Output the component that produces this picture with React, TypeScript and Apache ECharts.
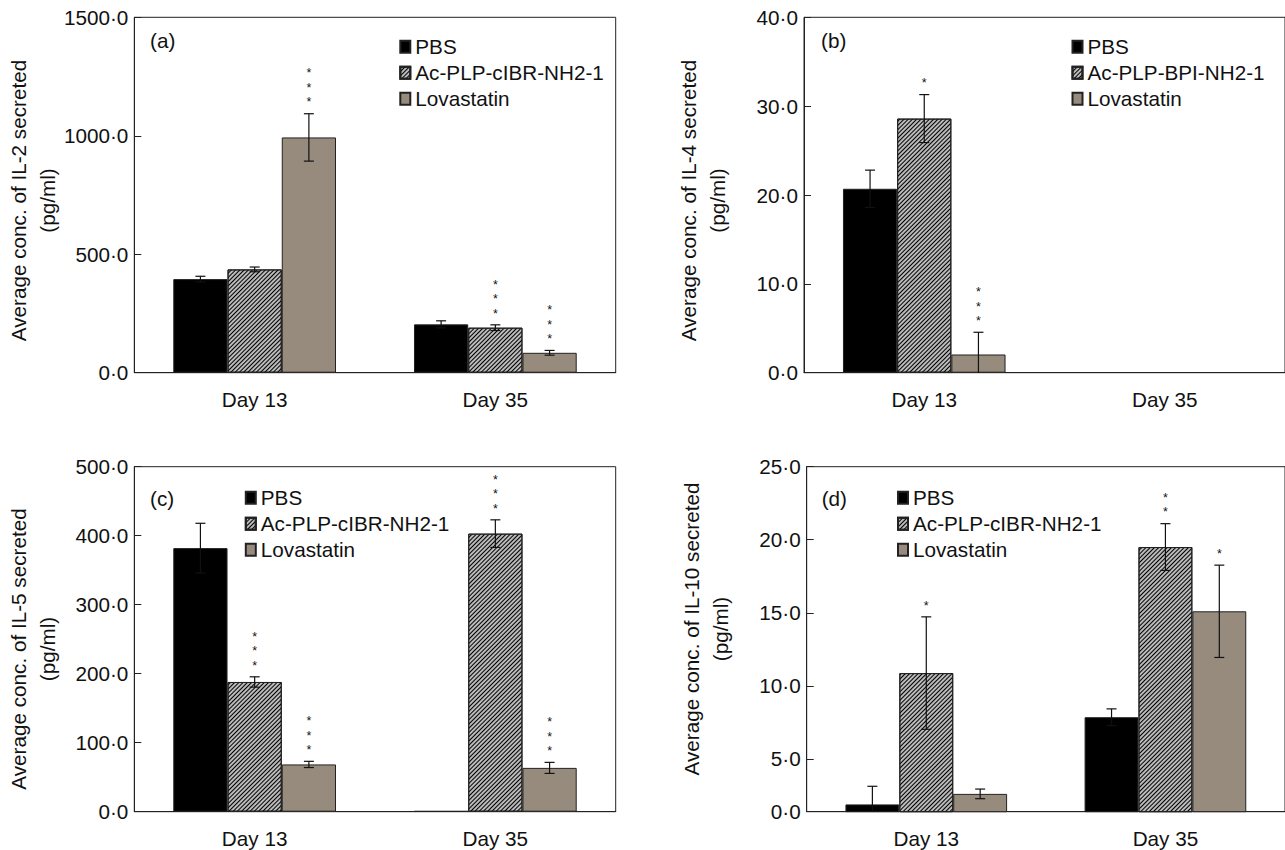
import React, { useEffect, useRef } from "react";
import * as echarts from "echarts";

const FONT = '"Liberation Sans", Arial, Helvetica, sans-serif';
const FS = 20.7;

const categories = ["Day 13", "Day 35"];
const seriesNames = ["PBS", "Ac-PLP-cIBR-NH2-1", "Lovastatin"];
const seriesNamesB = ["PBS", "Ac-PLP-BPI-NH2-1", "Lovastatin"];

// (a) IL-2
const il2Pbs = [395, 204];
const il2PbsErr = [12, 15];
const il2Pep = [436, 190];
const il2PepErr = [10, 12];
const il2Lov = [993, 84];
const il2LovErr = [100, 10];
const il2Stars = [[0, 0], [0, 3], [3, 3]];

// (b) IL-4
const il4Pbs = [20.7, null];
const il4PbsErr = [2.1, null];
const il4Pep = [28.6, null];
const il4PepErr = [2.7, null];
const il4Lov = [2.05, null];
const il4LovErr = [2.5, null];
const il4Stars = [[0, 0], [1, 0], [3, 0]];

// (c) IL-5
const il5Pbs = [382, 1];
const il5PbsErr = [36, 0];
const il5Pep = [188, 403];
const il5PepErr = [7.5, 20];
const il5Lov = [68.5, 63.5];
const il5LovErr = [4.5, 8];
const il5Stars = [[0, 0], [3, 3], [3, 3]];

// (d) IL-10
const il10Pbs = [1.88, 7.85];
const il10PbsErr = [1.24, 0.57];
const il10Pep = [10.87, 19.5];
const il10PepErr = [3.85, 1.6];
const il10Lov = [2.6, 15.1];
const il10LovErr = [0.33, 3.16];
const il10Stars = [[0, 0], [1, 2], [0, 1]];

// axis ticks
const il2Ticks = { min: 0, max: 1500, interval: 500 };
const il4Ticks = { min: 0, max: 40, interval: 10 };
const il5Ticks = { min: 0, max: 500, interval: 100 };
const il10AxisBase = 1.38;
const il10Ticks = [il10AxisBase, 5, 10, 15, 20, 25];

const GAP = 0.324;
const fmt = (v: number) => v.toFixed(1).replace(".", "·");

const panels = [
  {
    names: seriesNames,
    vals: [il2Pbs, il2Pep, il2Lov],
    errs: [il2PbsErr, il2PepErr, il2LovErr],
    stars: il2Stars,
    grid: { left: 134.3, top: 17.3, width: 481.4, height: 355.4 },
    legend: { left: 399.3, top: 33.7 },
    tag: { text: "(a)", x: 150, y: 40 },
    title: { text: "Average conc. of IL-2 secreted\n(pg/ml)", x: 32.5, y: 200.5 },
    y: il2Ticks,
  },
  {
    names: seriesNamesB,
    vals: [il4Pbs, il4Pep, il4Lov],
    errs: [il4PbsErr, il4PepErr, il4LovErr],
    stars: il4Stars,
    grid: { left: 804, top: 17.3, width: 482, height: 355.4 },
    legend: { left: 1071.5, top: 33.7 },
    tag: { text: "(b)", x: 821, y: 40 },
    title: { text: "Average conc. of IL-4 secreted\n(pg/ml)", x: 702.5, y: 200.5 },
    y: il4Ticks,
  },
  {
    names: seriesNames,
    vals: [il5Pbs, il5Pep, il5Lov],
    errs: [il5PbsErr, il5PepErr, il5LovErr],
    stars: il5Stars,
    grid: { left: 134.3, top: 466.7, width: 481.4, height: 345 },
    legend: { left: 244.8, top: 484.7 },
    tag: { text: "(c)", x: 150, y: 498 },
    title: { text: "Average conc. of IL-5 secreted\n(pg/ml)", x: 32.5, y: 649 },
    y: il5Ticks,
  },
  {
    names: seriesNames,
    vals: [il10Pbs, il10Pep, il10Lov],
    errs: [il10PbsErr, il10PepErr, il10LovErr],
    stars: il10Stars,
    grid: { left: 806.7, top: 466.7, width: 481, height: 345 },
    legend: { left: 897, top: 484.7 },
    tag: { text: "(d)", x: 821.7, y: 498 },
    title: { text: "Average conc. of IL-10 secreted\n(pg/ml)", x: 705.8, y: 629 },
    y: null,
  },
];

const colors = ["#000000", "#bababa", "#978b7d"];
const hatch = {
  symbol: "rect",
  symbolSize: 1,
  color: "#000000",
  dashArrayX: [1, 0],
  dashArrayY: [1, 2],
  rotation: -Math.PI / 4,
};

function makeRender(k: number, yMin: number) {
  return (params: any, api: any) => {
    const ci = api.value(0);
    const v = api.value(1);
    const e = api.value(2);
    const s = api.value(3);
    if (isNaN(v)) return { type: "group", children: [] };
    const center = api.coord([ci, v]);
    const band = api.size([1, 0])[0];
    const barW = (band * (1 - GAP)) / 3;
    const x = center[0] + (k - 1) * barW;
    const children: any[] = [];
    const topV = v + (e || 0);
    const yTop = api.coord([ci, topV])[1];
    if (e > 0) {
      const low = v - e;
      const yBot = api.coord([ci, Math.max(low, yMin)])[1];
      const ls = { stroke: "#111", lineWidth: 1.2 };
      children.push({ type: "line", shape: { x1: x, y1: yTop, x2: x, y2: yBot }, style: ls });
      children.push({ type: "line", shape: { x1: x - 5, y1: yTop, x2: x + 5, y2: yTop }, style: ls });
      if (low > yMin) {
        children.push({ type: "line", shape: { x1: x - 5, y1: yBot, x2: x + 5, y2: yBot }, style: ls });
      }
    }
    if (s > 0) {
      const txt = new Array(s).fill("*").join("\n");
      children.push({
        type: "text",
        x,
        y: yTop - 4,
        style: {
          text: txt,
          fontSize: 12.5,
          fontFamily: FONT,
          fill: "#111",
          lineHeight: 14.5,
          align: "center",
          verticalAlign: "bottom",
        },
      });
    }
    return { type: "group", children };
  };
}

function buildOption() {
  const grid: any[] = [];
  const xAxis: any[] = [];
  const yAxis: any[] = [];
  const legend: any[] = [];
  const series: any[] = [];
  const graphic: any[] = [];

  panels.forEach((p, gi) => {
    grid.push({ ...p.grid, show: true, borderColor: "#222", borderWidth: 1, containLabel: false });
    xAxis.push({
      type: "category",
      gridIndex: gi,
      data: categories,
      boundaryGap: true,
      axisLine: { lineStyle: { color: "#222", width: 1 } },
      axisTick: { inside: true, length: 7, lineStyle: { color: "#222" } },
      axisLabel: { fontSize: FS, fontFamily: FONT, color: "#111", margin: 16 },
      splitLine: { show: false },
    });
    const yMin = p.y ? p.y.min : il10AxisBase;
    const ya: any = {
      type: "value",
      gridIndex: gi,
      axisLine: { show: true, lineStyle: { color: "#222", width: 1 } },
      axisTick: { show: true, inside: true, length: 7, lineStyle: { color: "#222" } },
      axisLabel: { fontSize: FS, fontFamily: FONT, color: "#111", margin: 6, formatter: (v: number) => fmt(v) },
      splitLine: { show: false },
    };
    if (p.y) {
      ya.min = p.y.min;
      ya.max = p.y.max;
      ya.interval = p.y.interval;
    } else {
      ya.min = il10AxisBase;
      ya.max = 25;
      ya.axisLabel.customValues = il10Ticks;
      ya.axisTick.customValues = il10Ticks;
      ya.axisLabel.formatter = (v: number) => (v < 2 ? "0·0" : fmt(v));
    }
    yAxis.push(ya);

    legend.push({
      data: p.names,
      orient: "vertical",
      left: p.legend.left,
      top: p.legend.top,
      padding: 0,
      itemGap: 0,
      itemWidth: 10,
      itemHeight: 12,
      icon: "rect",
      selectedMode: false,
      textStyle: { fontSize: FS, fontFamily: FONT, color: "#111", lineHeight: 26, padding: [0, 0, 0, 0] },
    });

    p.names.forEach((name, k) => {
      series.push({
        type: "bar",
        name,
        xAxisIndex: gi,
        yAxisIndex: gi,
        data: p.vals[k],
        barGap: "0%",
        barCategoryGap: GAP * 100 + "%",
        itemStyle: {
          color: colors[k],
          borderColor: "#222",
          borderWidth: 1,
          decal: k === 1 ? hatch : undefined,
        },
        emphasis: { disabled: true },
        silent: true,
      });
    });
    p.names.forEach((name, k) => {
      const rows = categories
        .map((c, i) => [i, p.vals[k][i], p.errs[k][i], p.stars[k][i]])
        .filter((r) => r[1] != null);
      series.push({
        type: "custom",
        name: "err-" + gi + "-" + k,
        xAxisIndex: gi,
        yAxisIndex: gi,
        data: rows,
        renderItem: makeRender(k, yMin),
        z: 10,
        silent: true,
      });
    });

    graphic.push({
      type: "text",
      x: p.tag.x,
      y: p.tag.y,
      style: { text: p.tag.text, font: `${FS}px ${FONT}`, fill: "#111", align: "left", verticalAlign: "middle" },
    });
    graphic.push({
      type: "text",
      x: p.title.x,
      y: p.title.y,
      rotation: Math.PI / 2,
      style: {
        text: p.title.text,
        font: `${FS}px ${FONT}`,
        fill: "#111",
        align: "center",
        verticalAlign: "middle",
        lineHeight: 29,
      },
    });
  });

  return {
    animation: false,
    backgroundColor: "#ffffff",
    textStyle: { fontFamily: FONT },
    grid,
    xAxis,
    yAxis,
    legend,
    series,
    graphic,
  };
}

export default function App() {
  const ref = useRef<HTMLDivElement>(null);
  useEffect(() => {
    if (!ref.current) return;
    const chart = echarts.init(ref.current, null, { renderer: "svg" });
    chart.setOption(buildOption() as any);
    return () => chart.dispose();
  }, []);
  return (
    <div
      ref={ref}
      style={{ position: "absolute", left: 0, top: 0, width: 1285, height: 850, background: "#fff" }}
    />
  );
}
